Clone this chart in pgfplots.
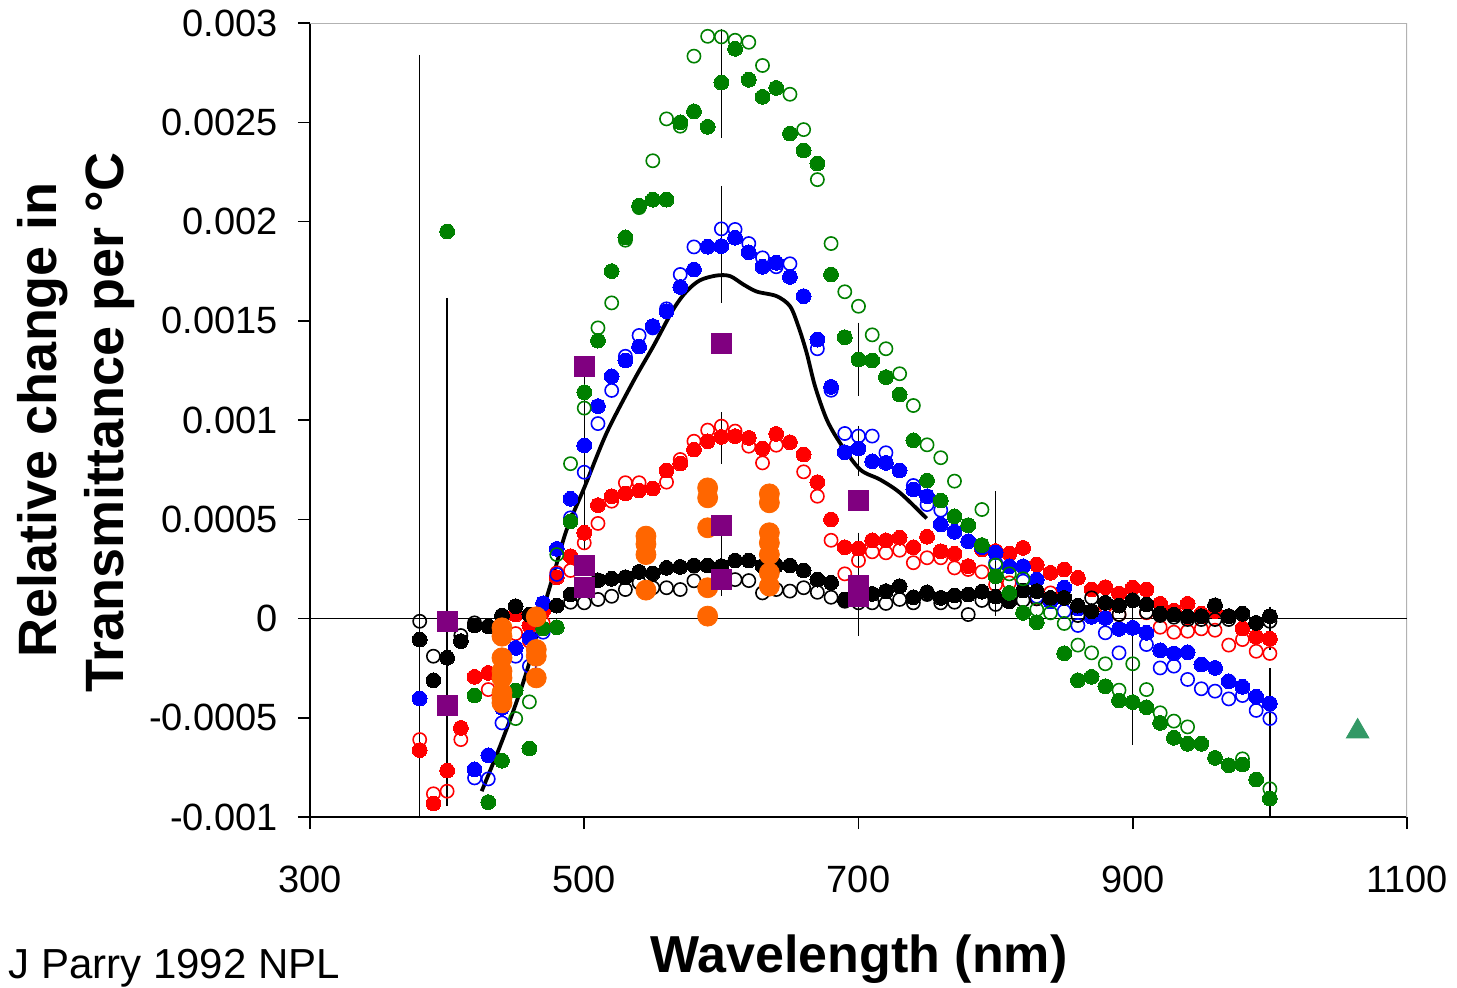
\documentclass[border=0pt]{standalone}
\usepackage{fontspec}
\setmainfont{Liberation Sans}
\usepackage{pgfplots}
\pgfplotsset{compat=1.18}
\definecolor{cgreen}{RGB}{0,128,0}
\definecolor{cblue}{RGB}{0,0,255}
\definecolor{cred}{RGB}{255,0,0}
\definecolor{corange}{RGB}{255,102,0}
\definecolor{cpurple}{RGB}{128,0,128}
\definecolor{ctri}{RGB}{51,153,102}
\pgfplotsset{
  fillc/.style={only marks, color=#1, mark=*, mark size=3.7pt, mark options={draw=#1, fill=#1, line width=0pt}},
  openc/.style={only marks, color=#1, mark=o, mark size=3.3pt, mark options={draw=#1, line width=0.8pt}},
  ebar/.style={black, line width=0.7pt, no marks},
}
\begin{document}
\begin{tikzpicture}
\useasboundingbox (-155pt,-85pt) rectangle (573.5pt,408.5pt);
\begin{axis}[
  at={(0,0)}, anchor=south west,
  scale only axis, width=548.5pt, height=397pt,
  xmin=300, xmax=1100, ymin=-0.001, ymax=0.003,
  axis x line*=bottom, axis y line*=left,
  axis line style={black, line width=0.75pt},
  xtick={300,500,700,900,1100},
  xticklabels={300,500,700,900,1100},
  ytick={-0.001,-0.0005,0,0.0005,0.001,0.0015,0.002,0.0025,0.003},
  yticklabels={-0.001,-0.0005,0,0.0005,0.001,0.0015,0.002,0.0025,0.003},
  scaled y ticks=false, scaled x ticks=false,
  tick align=outside, major tick length=6pt,
  tick style={black, line width=0.75pt},
  ticklabel style={font=\fontsize{19}{22}\selectfont},
  xticklabel style={yshift=-15pt},
  yticklabel style={xshift=-6.5pt},
]
\draw[gray!60, line width=0.75pt] (rel axis cs:0,1) -- (rel axis cs:1,1) -- (rel axis cs:1,0);
\draw[black, line width=0.6pt] (axis cs:300,0) -- (axis cs:1100,0);

% error bars
\addplot[ebar] coordinates {(380,0.00284) (380,-0.001)};
\addplot[ebar] coordinates {(400,0.001615) (400,-0.000945)};
\addplot[ebar] coordinates {(500,0.00122) (500,0.00035)};
\addplot[ebar] coordinates {(600,0.00297) (600,0.00242)};
\addplot[ebar] coordinates {(600,0.00218) (600,0.00159)};
\addplot[ebar] coordinates {(600,0.00104) (600,0.00078)};
\addplot[ebar] coordinates {(600,0.000415) (600,0.000112)};
\addplot[ebar] coordinates {(700,0.00149) (700,0.00112)};
\addplot[ebar] coordinates {(700,0.00097) (700,0.00072)};
\addplot[ebar] coordinates {(700,0.000433) (700,-0.000089)};
\addplot[ebar] coordinates {(800,0.00064) (800,0.000012)};
\addplot[ebar] coordinates {(900,0.00018) (900,-0.000635)};
\addplot[ebar] coordinates {(1000,0.00006) (1000,-0.00016)};
\addplot[ebar] coordinates {(1000,-0.00025) (1000,-0.001)};

% red open
\addplot[openc=cred] coordinates {(380,-0.00061) (390,-0.000883) (400,-0.00087) (410,-0.00061) (430,-0.000358) (450,-0.000076) (460,-0.000114) (470,-0.000022) (480,0.00023) (490,0.000242) (500,0.000381) (510,0.000479) (520,0.000591) (530,0.000684) (540,0.000684) (560,0.000687) (570,0.000801) (580,0.000893) (590,0.000949) (600,0.000969) (610,0.000944) (620,0.000868) (630,0.000784) (640,0.000873) (660,0.000739) (670,0.000616) (680,0.000394) (690,0.000225) (700,0.000292) (710,0.000336) (720,0.000331) (730,0.000344) (740,0.000281) (750,0.000306) (760,0.000306) (770,0.000255) (780,0.000247) (790,0.000235) (800,0.000171) (810,0.00018) (830,0.0001) (840,0.000129) (870,0.000025) (880,0.000062) (890,0.00002) (910,0.000029) (920,-0.000044) (930,-0.000069) (940,-0.000064) (950,-0.000052) (960,-0.000059) (970,-0.000134) (980,-0.000106) (990,-0.000165) (1000,-0.000176)};
% red filled
\addplot[fillc=cred] coordinates {(380,-0.000663) (390,-0.000932) (400,-0.000766) (410,-0.000551) (420,-0.000294) (430,-0.000274) (450,0.00002) (460,-0.000035) (470,0.00004) (480,0.000208) (490,0.000314) (500,0.000432) (510,0.000571) (520,0.000616) (530,0.00063) (540,0.000645) (550,0.000655) (560,0.000746) (570,0.000781) (580,0.000851) (590,0.000893) (600,0.000915) (610,0.000919) (620,0.00091) (630,0.000856) (640,0.00093) (650,0.000888) (660,0.000826) (670,0.000687) (680,0.000499) (690,0.000359) (700,0.000353) (710,0.000394) (720,0.000394) (730,0.000407) (740,0.000359) (750,0.000412) (760,0.000339) (770,0.000326) (780,0.000264) (790,0.000348) (800,0.00034) (810,0.000327) (820,0.000356) (830,0.000272) (840,0.00023) (850,0.000247) (860,0.000205) (870,0.000146) (880,0.000158) (890,0.000126) (900,0.000155) (910,0.000146) (920,0.000074) (930,0.00004) (940,0.000074) (950,0.000024) (960,0.000037) (970,0.000012) (980,-0.00005) (990,-0.000092) (1000,-0.000102)};
% blue open
\addplot[openc=cblue] coordinates {(420,-0.000803) (430,-0.000808) (440,-0.000526) (450,-0.00019) (460,-0.00024) (470,-0.000069) (480,0.000222) (490,0.000507) (500,0.000737) (510,0.000982) (520,0.001149) (530,0.001321) (540,0.001426) (550,0.001464) (560,0.00156) (570,0.001733) (580,0.001872) (600,0.001963) (610,0.00196) (620,0.001889) (630,0.001817) (640,0.001772) (650,0.001787) (670,0.001359) (680,0.00115) (690,0.000932) (700,0.000919) (710,0.000919) (720,0.000835) (740,0.00067) (750,0.000574) (760,0.000546) (800,0.00028) (820,0.000188) (830,0.000112) (850,0.000037) (860,-0.000035) (880,-0.000072) (890,-0.000173) (910,-0.000131) (920,-0.000249) (930,-0.00024) (940,-0.000307) (950,-0.000354) (960,-0.000366) (970,-0.000405) (980,-0.000388) (990,-0.000463) (1000,-0.000504)};
% blue filled
\addplot[fillc=cblue] coordinates {(380,-0.000403) (420,-0.00076) (430,-0.000689) (440,-0.00045) (450,-0.000148) (460,-0.000097) (470,0.000077) (480,0.000351) (490,0.000603) (500,0.000872) (510,0.00107) (520,0.00122) (530,0.0013) (540,0.00137) (550,0.001473) (560,0.001548) (570,0.00167) (580,0.001758) (590,0.001873) (600,0.001876) (610,0.001918) (620,0.001845) (630,0.001772) (640,0.001792) (650,0.001721) (660,0.001624) (670,0.001405) (680,0.001167) (690,0.000838) (700,0.000856) (710,0.000792) (720,0.000784) (730,0.000746) (740,0.00065) (750,0.000616) (760,0.000474) (770,0.000437) (780,0.000389) (790,0.00036) (800,0.000332) (810,0.000263) (820,0.000263) (830,0.000196) (840,0.000087) (850,0.000155) (860,0.00005) (870,0.0000084) (880,0.000003) (890,-0.000052) (900,-0.000047) (910,-0.000072) (920,-0.00016) (930,-0.000176) (940,-0.00017) (950,-0.000232) (960,-0.000249) (970,-0.000316) (980,-0.000344) (990,-0.000394) (1000,-0.000428)};
% black open
\addplot[openc=black] coordinates {(380,-0.000014) (390,-0.00019) (410,-0.000086) (420,-0.000022) (490,0.000082) (500,0.000079) (510,0.000096) (520,0.000112) (530,0.000146) (540,0.00018) (550,0.000155) (560,0.000155) (570,0.000146) (580,0.00019) (610,0.000196) (620,0.000191) (630,0.000129) (640,0.000146) (650,0.000138) (660,0.000155) (670,0.000132) (680,0.000107) (690,0.000087) (700,0.000079) (710,0.000079) (720,0.000076) (730,0.000096) (740,0.000079) (750,0.000121) (760,0.000079) (770,0.000082) (780,0.00002) (790,0.000091) (800,0.000071) (820,0.000092) (830,0.000099) (860,0.000015) (870,0.000104) (890,0.00002) (910,0.000032) (920,0.000015) (930,0.0000067) (940,-0.000005) (950,-0.000005) (960,-0.000005) (970,-0.000005) (1000,-0.000014)};
% black filled
\addplot[fillc=black] coordinates {(380,-0.000106) (390,-0.000311) (400,-0.000198) (410,-0.000114) (420,-0.000035) (430,-0.000039) (440,0.000015) (450,0.000062) (460,0.00002) (480,0.000065) (490,0.000121) (500,0.00016) (510,0.000193) (520,0.0002) (530,0.000208) (540,0.000235) (550,0.000227) (560,0.000255) (570,0.00026) (580,0.000267) (590,0.000267) (600,0.000264) (610,0.000292) (620,0.000292) (630,0.000264) (640,0.000267) (650,0.000267) (660,0.000242) (670,0.000196) (680,0.00018) (690,0.000096) (700,0.000107) (710,0.000124) (720,0.000138) (730,0.000163) (740,0.000107) (750,0.000132) (760,0.000104) (770,0.000116) (780,0.000121) (790,0.000135) (800,0.00011) (810,0.000087) (820,0.000141) (830,0.000138) (840,0.000104) (850,0.000104) (860,0.000065) (870,0.000037) (880,0.000079) (890,0.000065) (900,0.000092) (910,0.000071) (920,0.000024) (930,0.00002) (940,0.00001) (950,0.000012) (960,0.000067) (970,0.000012) (980,0.000024) (990,-0.000022) (1000,0.000012)};
% green open
\addplot[openc=cgreen] coordinates {(450,-0.000504) (460,-0.00042) (480,0.000322) (490,0.00078) (500,0.00106) (510,0.001464) (520,0.00159) (530,0.001906) (540,0.00207) (550,0.002306) (560,0.002517) (570,0.00248) (580,0.002833) (590,0.002933) (600,0.00293) (610,0.002913) (620,0.002903) (630,0.002786) (650,0.002641) (660,0.002463) (670,0.002211) (680,0.001889) (690,0.001646) (700,0.001573) (710,0.001429) (720,0.001359) (730,0.001233) (740,0.001073) (750,0.000875) (760,0.00081) (770,0.000692) (780,0.00047) (790,0.000549) (800,0.000269) (810,0.000225) (820,0.0002) (830,0.000045) (840,0.0000285) (850,-0.000025) (860,-0.000134) (870,-0.000173) (880,-0.000228) (890,-0.000361) (900,-0.000228) (910,-0.000358) (920,-0.000475) (930,-0.000517) (940,-0.000546) (980,-0.000707) (1000,-0.000858)};
% green filled
\addplot[fillc=cgreen] coordinates {(400,0.00195) (420,-0.000388) (430,-0.000925) (440,-0.000716) (450,-0.000363) (460,-0.000655) (470,-0.00005) (480,-0.000044) (490,0.00049) (500,0.00114) (510,0.0014) (520,0.00175) (530,0.00192) (540,0.00208) (550,0.00211) (560,0.00211) (570,0.0025) (580,0.002555) (590,0.002477) (600,0.0027) (610,0.00287) (620,0.002714) (630,0.002628) (640,0.002673) (650,0.002443) (660,0.002358) (670,0.002292) (680,0.001733) (690,0.001417) (700,0.001305) (710,0.0013) (720,0.001216) (730,0.001128) (740,0.000898) (750,0.000695) (760,0.000594) (770,0.000515) (780,0.00047) (790,0.00037) (800,0.000213) (810,0.000129) (820,0.0000285) (830,-0.0000186) (850,-0.000175) (860,-0.000311) (870,-0.000294) (880,-0.000341) (890,-0.000413) (900,-0.000421) (910,-0.000447) (920,-0.000526) (930,-0.000601) (940,-0.000631) (950,-0.000631) (960,-0.000702) (970,-0.000739) (980,-0.000735) (990,-0.000811) (1000,-0.000907)};
% black line
\addplot[black, line width=1.9pt, smooth, no marks] coordinates {(425.2,-0.00087) (438.6,-0.000643) (449.5,-0.000442) (459.2,-0.00024) (470.1,0.000045) (478.7,0.000247) (487.2,0.000448) (500.5,0.000667) (516.4,0.000936) (535.8,0.001195) (550.4,0.001372) (564.9,0.001557) (574.7,0.001649) (584.4,0.001704) (596.6,0.001728) (606.3,0.001725) (616,0.001683) (625.8,0.001647) (640.3,0.001624) (650.1,0.001573) (656.1,0.001473) (662.2,0.001338) (668.3,0.00117) (676.8,0.001003) (686.5,0.000885) (701.1,0.000751) (715.7,0.0007) (730.3,0.000633) (749.7,0.000504)};
% orange
\addplot[only marks, mark=*, mark size=5pt, color=corange, mark options={draw=corange, fill=corange}] coordinates {(440,-0.000047) (440,-0.000089) (440,-0.000198) (440,-0.000265) (440,-0.000299) (440,-0.000374) (440,-0.0004) (440,-0.000425) (465,0.0000085) (465,-0.000156) (465,-0.00019) (465,-0.000299) (545,0.000415) (545,0.000375) (545,0.000322) (545,0.000143) (590,0.000658) (590,0.000608) (590,0.000457) (590,0.000155) (590,0.000012) (635,0.000628) (635,0.000583) (635,0.000432) (635,0.000381) (635,0.000322) (635,0.00023) (635,0.000163)};
% purple squares
\addplot[only marks, mark=square*, mark size=5pt, color=cpurple, mark options={draw=cpurple, fill=cpurple}] coordinates {(400,-0.000014) (400,-0.00044) (500,0.001268) (500,0.000269) (500,0.000155) (600,0.001384) (600,0.000469) (600,0.000196) (700,0.000596) (700,0.000166) (700,0.000112)};
% triangle
\addplot[only marks, mark=triangle*, mark size=6.5pt, color=ctri, mark options={draw=ctri, fill=ctri}] coordinates {(1064,-0.000569)};
\end{axis}
\node[anchor=base, rotate=90, font=\fontsize{27}{30}\selectfont\bfseries] at (-126.5pt,198.5pt) {Relative change in};
\node[anchor=base, rotate=90, font=\fontsize{27}{30}\selectfont\bfseries] at (-93pt,197.25pt) {Transmittance per °C};
\node[anchor=base, font=\fontsize{26}{30}\selectfont\bfseries] at (274.5pt,-77.5pt) {Wavelength (nm)};
\node[anchor=base west, inner sep=0pt, font=\fontsize{21}{24}\selectfont] at (-151pt,-80.5pt) {J Parry 1992 NPL};
\end{tikzpicture}
\end{document}
